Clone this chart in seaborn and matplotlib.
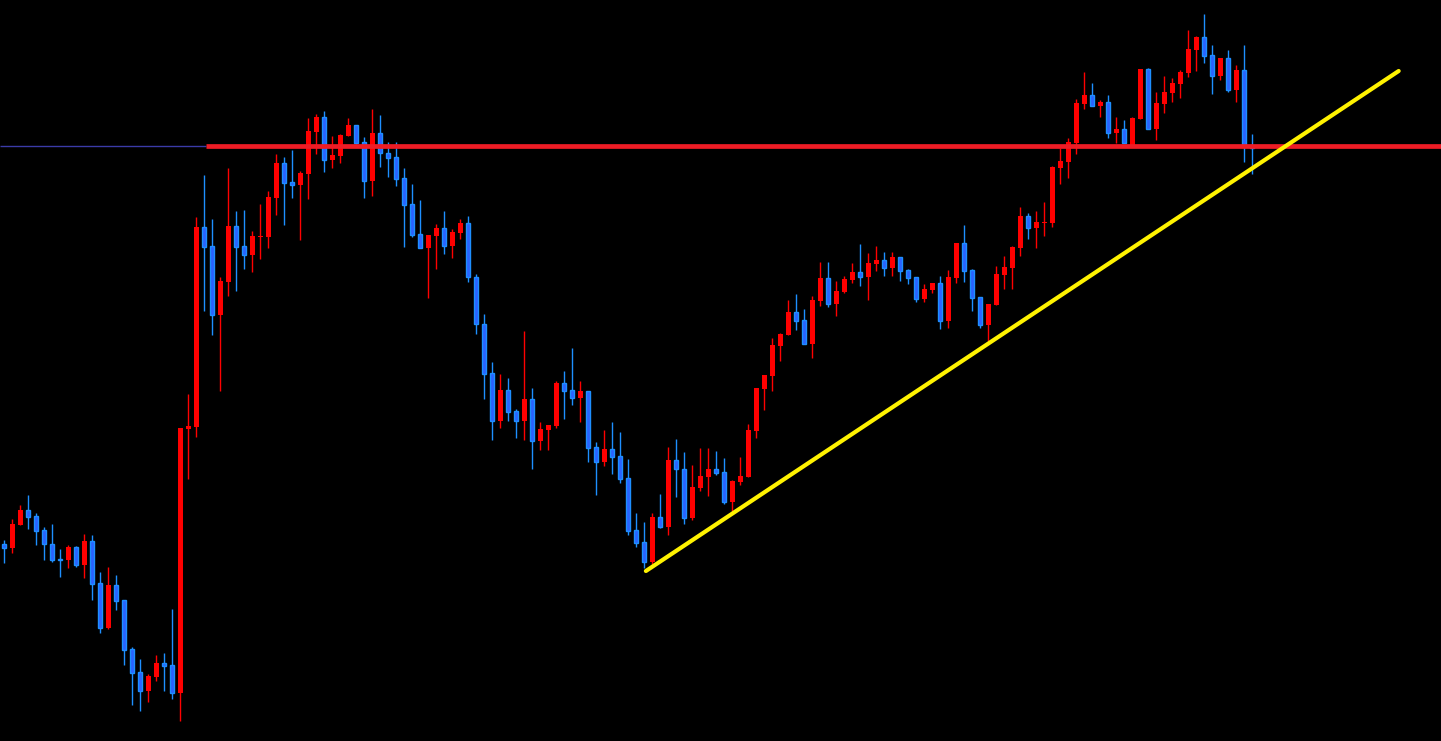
import numpy as np
import pandas as pd
import matplotlib
matplotlib.use("Agg")
import matplotlib.pyplot as plt
import seaborn as sns

# ---- data (price units) ----
opens = [197, 193, 216, 231, 225, 211, 197, 182, 181, 194, 176, 200, 158, 113, 156, 141, 92, 69, 50, 64,
         78, 76, 48, 312, 314, 514, 495, 426, 459, 515, 495, 486, 504, 504, 543, 578, 559, 556, 567, 609,
         624, 581, 585, 605, 616, 599, 560, 608, 588, 584, 563, 537, 507, 493, 505, 513, 495, 508, 518, 464,
         417, 368, 320, 351, 330, 320, 342, 300, 311, 315, 358, 351, 343, 350, 294, 279, 292, 285, 263, 211,
         199, 179, 224, 214, 281, 272, 223, 253, 264, 272, 269, 239, 259, 264, 310, 352, 365, 395, 406, 429,
         421, 397, 440, 463, 437, 449, 461, 469, 464, 477, 481, 473, 484, 471, 464, 442, 451, 458, 420, 463,
         498, 471, 444, 416, 436, 466, 473, 493, 525, 513, 518, 518, 573, 579, 598, 637, 646, 635, 639, 608,
         612, 596, 622, 672, 612, 637, 648, 657, 668, 691, 704, 686, 665, 683, 651, 671, 595]
highs = [201, 222, 236, 246, 228, 214, 217, 192, 196, 195, 207, 206, 169, 174, 166, 141, 94, 82, 67, 86,
         88, 132, 313, 347, 524, 566, 522, 464, 573, 530, 531, 510, 537, 550, 587, 584, 591, 570, 623, 627,
         630, 605, 607, 623, 616, 604, 632, 626, 599, 599, 573, 557, 541, 506, 517, 530, 512, 522, 525, 467,
         427, 379, 367, 363, 332, 410, 353, 319, 316, 360, 370, 393, 360, 350, 299, 311, 319, 309, 282, 228,
         219, 228, 247, 294, 302, 289, 276, 293, 293, 290, 283, 261, 284, 317, 353, 366, 403, 408, 441, 447,
         432, 445, 479, 479, 460, 465, 478, 497, 488, 495, 489, 489, 484, 472, 464, 457, 458, 465, 471, 498,
         516, 472, 444, 437, 475, 485, 495, 534, 528, 530, 539, 575, 593, 603, 642, 669, 658, 641, 646, 624,
         621, 624, 672, 673, 649, 665, 663, 671, 711, 705, 727, 696, 683, 691, 676, 696, 607]
lows = [178, 188, 216, 212, 196, 181, 179, 164, 173, 174, 163, 141, 108, 112, 131, 76, 36, 30, 39, 60,
        50, 42, 20, 262, 304, 430, 406, 350, 445, 450, 472, 469, 482, 493, 526, 516, 543, 501, 542, 587,
        569, 573, 578, 605, 597, 543, 545, 574, 564, 555, 494, 504, 493, 443, 472, 487, 483, 502, 459, 407,
        342, 301, 313, 320, 303, 301, 272, 291, 291, 313, 322, 336, 319, 279, 246, 275, 267, 258, 206, 194,
        173, 177, 213, 206, 244, 217, 221, 250, 245, 266, 237, 230, 256, 264, 303, 331, 350, 380, 406, 411,
        397, 383, 435, 434, 425, 448, 458, 455, 441, 470, 465, 465, 460, 457, 439, 439, 448, 412, 413, 458,
        459, 430, 413, 400, 436, 452, 452, 485, 502, 493, 505, 514, 557, 563, 587, 632, 635, 624, 603, 598,
        598, 596, 622, 612, 601, 628, 639, 643, 664, 670, 678, 647, 661, 649, 639, 579, 567]
closes = [193, 217, 231, 224, 210, 197, 181, 181, 194, 176, 200, 157, 113, 156, 140, 91, 68, 50, 65, 78,
          75, 48, 313, 315, 514, 494, 426, 460, 515, 494, 486, 505, 505, 544, 578, 558, 556, 568, 610, 624,
          581, 586, 606, 616, 598, 560, 608, 588, 583, 562, 536, 506, 493, 506, 513, 495, 509, 518, 464, 417,
          367, 320, 351, 329, 320, 342, 300, 312, 316, 358, 350, 343, 350, 293, 279, 292, 284, 262, 210, 198,
          179, 224, 214, 281, 272, 223, 254, 265, 272, 268, 239, 260, 265, 311, 353, 366, 396, 407, 429, 420,
          397, 441, 463, 437, 450, 462, 469, 464, 478, 481, 473, 484, 470, 463, 442, 452, 458, 420, 464, 498,
          470, 443, 416, 437, 467, 474, 494, 525, 513, 519, 519, 574, 580, 599, 638, 646, 635, 639, 608, 612,
          598, 623, 672, 612, 638, 649, 658, 669, 692, 704, 685, 665, 683, 651, 671, 595, 593]

level_price = 594.7          # horizontal resistance level
level_start = 25.2           # bar index where the red level begins
trend_x = [80.2, 174.3]      # bar index of trend-line ends
trend_y = [170.0, 670.0]     # price at trend-line ends

df = pd.DataFrame({"open": opens, "high": highs, "low": lows, "close": closes})
df["idx"] = np.arange(len(df))
df["up"] = df["close"] >= df["open"]
df["bottom"] = df[["open", "close"]].min(axis=1)
df["height"] = (df["close"] - df["open"]).abs().clip(lower=0.8)

UP = "#ff0000"
DOWN_FILL = "#2a62ff"
DOWN_EDGE = "#1e8fff"

sns.set_theme(style="dark", rc={"axes.facecolor": "black", "figure.facecolor": "black",
                                "savefig.facecolor": "black"})

fig = plt.figure(figsize=(14.41, 7.41), dpi=100)
ax = fig.add_axes([0, 0, 1, 1])
ax.set_facecolor("black")

up = df[df["up"]]
dn = df[~df["up"]]

# wicks
ax.vlines(up["idx"], up["low"], up["high"], color=UP, linewidth=1.0, zorder=2)
ax.vlines(dn["idx"], dn["low"], dn["high"], color=DOWN_EDGE, linewidth=1.0, zorder=2)
# bodies
ax.bar(up["idx"], up["height"], bottom=up["bottom"], width=0.6, color=UP,
       edgecolor=UP, linewidth=0, zorder=3)
ax.bar(dn["idx"], dn["height"], bottom=dn["bottom"], width=0.52, color=DOWN_FILL,
       edgecolor=DOWN_EDGE, linewidth=1.0, zorder=3)

xmin, xmax = -0.5375, 179.59
# thin level line on the left and thick red level line
ax.hlines(level_price, xmin, level_start, color="#3b3ba8", linewidth=1.0, zorder=4)
ax.hlines(level_price, level_start, xmax, color="#ee1c25", linewidth=3.4, zorder=5)

# yellow trend line
trend = pd.DataFrame({"x": trend_x, "y": trend_y})
sns.lineplot(data=trend, x="x", y="y", ax=ax, color="#fff200", linewidth=3.0,
             solid_capstyle="round", zorder=6)

ax.set_xlim(xmin, xmax)
ax.set_ylim(0, 741)
ax.axis("off")

fig.savefig("out.png", dpi=100, facecolor="black")
